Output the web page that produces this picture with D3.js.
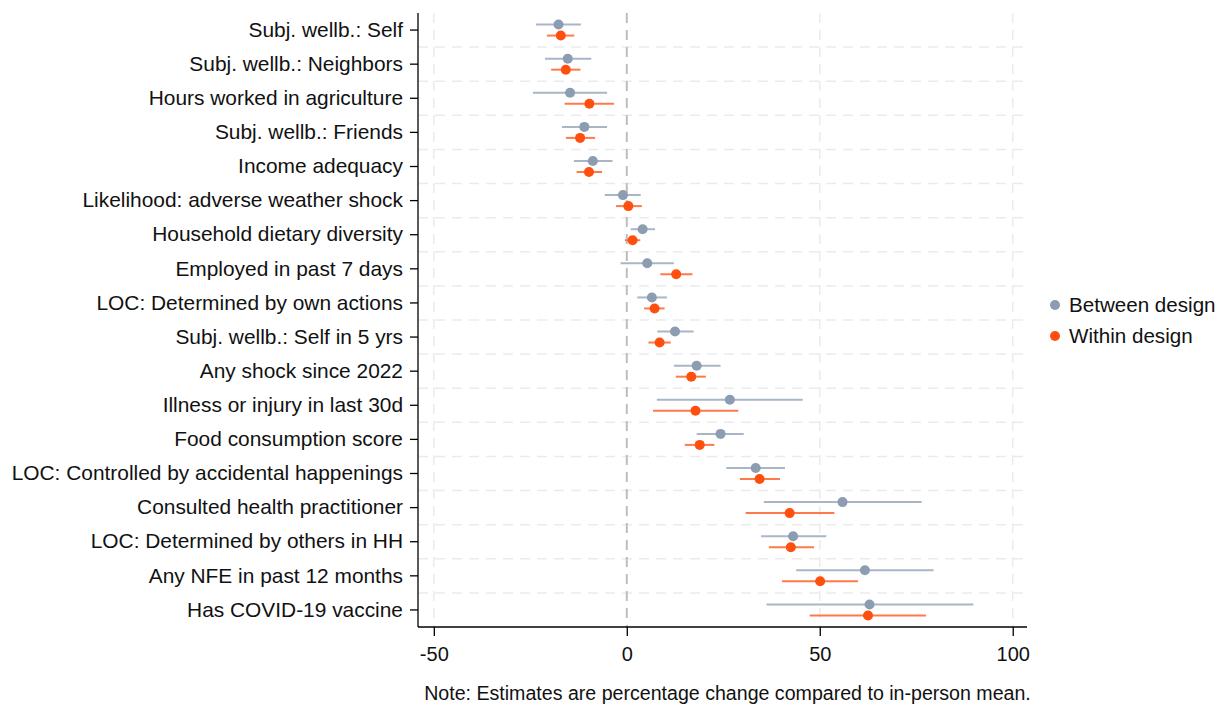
<!DOCTYPE html>
<html>
<head>
<meta charset="utf-8">
<script src="https://cdn.jsdelivr.net/npm/d3@7"></script>
<style>
  html, body { margin: 0; padding: 0; background: #fff; }
  svg { display: block; font-family: "Liberation Sans", Arial, sans-serif; }
</style>
</head>
<body>
<svg id="chart" width="1222" height="704"></svg>
<script>
// Outcomes, top to bottom
const outcomes = [
  'Subj. wellb.: Self', 'Subj. wellb.: Neighbors', 'Hours worked in agriculture',
  'Subj. wellb.: Friends', 'Income adequacy', 'Likelihood: adverse weather shock',
  'Household dietary diversity', 'Employed in past 7 days', 'LOC: Determined by own actions',
  'Subj. wellb.: Self in 5 yrs', 'Any shock since 2022', 'Illness or injury in last 30d',
  'Food consumption score', 'LOC: Controlled by accidental happenings',
  'Consulted health practitioner', 'LOC: Determined by others in HH',
  'Any NFE in past 12 months', 'Has COVID-19 vaccine'
];

// Between design: estimate, lower, upper
const betweenEst = [-17.7, -15.3, -14.7, -11.0, -8.8, -1.0, 4.1, 5.3, 6.5, 12.5, 18.1, 26.7, 24.3, 33.4, 55.9, 43.1, 61.7, 62.9];
const betweenLo  = [-23.5, -21.2, -24.3, -16.8, -13.7, -5.7, 1.0, -1.6, 2.7, 7.9, 12.2, 7.8, 18.1, 25.8, 35.5, 34.8, 43.9, 36.2];
const betweenHi  = [-11.9, -9.2, -5.1, -5.1, -3.7, 3.6, 7.3, 12.2, 10.4, 17.3, 24.3, 45.6, 30.3, 41.0, 76.4, 51.7, 79.5, 89.8];

// Within design: estimate, lower, upper
const withinEst = [-17.1, -15.8, -9.7, -12.1, -9.8, 0.4, 1.5, 12.8, 7.2, 8.5, 16.7, 17.8, 18.9, 34.4, 42.2, 42.5, 50.1, 62.5];
const withinLo  = [-20.7, -19.6, -16.1, -15.8, -13.0, -2.8, -0.5, 8.7, 4.5, 5.6, 12.7, 6.8, 15.0, 29.3, 30.8, 36.8, 40.2, 47.4];
const withinHi  = [-13.6, -12.0, -3.3, -8.2, -6.4, 3.9, 3.5, 17.0, 9.8, 11.4, 20.5, 28.9, 22.7, 39.7, 53.8, 48.5, 59.9, 77.5];

const xTicks = [-50, 0, 50, 100];

const series = [
  { name: 'Between design', est: betweenEst, lo: betweenLo, hi: betweenHi, dot: '#8c9db1', bar: '#a8b6c6', dy: -5.5 },
  { name: 'Within design',  est: withinEst,  lo: withinLo,  hi: withinHi,  dot: '#ff4f0e', bar: '#ff7a4a', dy: 5.5 }
];

const svg = d3.select('#chart');
const plotL = 418, plotR = 1027, plotT = 13, plotB = 627;
const font = '"Liberation Sans", Arial, sans-serif';

const x = d3.scaleLinear().domain([-54.1, 103.7]).range([plotL, plotR]);
const y = d3.scaleBand().domain(outcomes).range([plotT, plotB]).padding(0);

// horizontal dashed grid between rows
const g = svg.append('g');
g.selectAll('line.hgrid').data(outcomes.slice(1)).join('line')
  .attr('class', 'hgrid')
  .attr('x1', plotL).attr('x2', plotR)
  .attr('y1', d => y(d)).attr('y2', d => y(d))
  .attr('stroke', '#ebebeb').attr('stroke-width', 1.5)
  .attr('stroke-dasharray', '10,7');

// vertical dashed grid
g.selectAll('line.vgrid').data(xTicks.filter(t => t !== 0)).join('line')
  .attr('class', 'vgrid')
  .attr('x1', d => x(d)).attr('x2', d => x(d))
  .attr('y1', plotT).attr('y2', plotB)
  .attr('stroke', '#ebebeb').attr('stroke-width', 1.5)
  .attr('stroke-dasharray', '10,7');

g.append('line')
  .attr('x1', x(0)).attr('x2', x(0))
  .attr('y1', plotT).attr('y2', plotB)
  .attr('stroke', '#bdbdbd').attr('stroke-width', 2)
  .attr('stroke-dasharray', '10,7');

// CIs and points
series.forEach(s => {
  const rows = outcomes.map((o, i) => ({ o, est: s.est[i], lo: s.lo[i], hi: s.hi[i] }));
  const cy = d => y(d.o) + y.bandwidth() / 2 + s.dy;
  svg.append('g').selectAll('line').data(rows).join('line')
    .attr('x1', d => x(d.lo)).attr('x2', d => x(d.hi))
    .attr('y1', cy).attr('y2', cy)
    .attr('stroke', s.bar).attr('stroke-width', 2);
  svg.append('g').selectAll('circle').data(rows).join('circle')
    .attr('cx', d => x(d.est)).attr('cy', cy).attr('r', 5)
    .attr('fill', s.dot);
});

// axes
const yAxis = svg.append('g').attr('transform', `translate(${plotL},0)`)
  .call(d3.axisLeft(y).tickSize(8).tickPadding(7));
yAxis.select('.domain').attr('d', `M0,${plotT}V${plotB}`).attr('stroke', '#000').attr('stroke-width', 1.3);
yAxis.selectAll('.tick line').attr('stroke', '#000').attr('stroke-width', 1.3);
yAxis.selectAll('.tick text').attr('font-size', 20.9).attr('fill', '#111').attr('font-family', font);

const xAxis = svg.append('g').attr('transform', `translate(0,${plotB})`)
  .call(d3.axisBottom(x).tickValues(xTicks).tickFormat(d => String(d)).tickSize(9).tickPadding(11));
xAxis.select('.domain').attr('d', `M${plotL},0H${plotR}`).attr('stroke', '#000').attr('stroke-width', 1.3);
xAxis.selectAll('.tick line').attr('stroke', '#000').attr('stroke-width', 1.3);
xAxis.selectAll('.tick text').attr('font-size', 20).attr('fill', '#111').attr('font-family', font);

// legend
const legend = svg.append('g').attr('transform', 'translate(1055,305)');
series.forEach((s, i) => {
  const row = legend.append('g').attr('transform', `translate(0,${i * 31})`);
  row.append('circle').attr('r', 5).attr('fill', s.dot);
  row.append('text').attr('x', 14).attr('dy', '0.35em')
    .attr('font-size', 20.6).attr('fill', '#111').text(s.name);
});

// note
svg.append('text')
  .attr('x', 727.5).attr('y', 700).attr('text-anchor', 'middle')
  .attr('font-size', 19.6).attr('fill', '#111')
  .text('Note: Estimates are percentage change compared to in-person mean.');
</script>
</body>
</html>
